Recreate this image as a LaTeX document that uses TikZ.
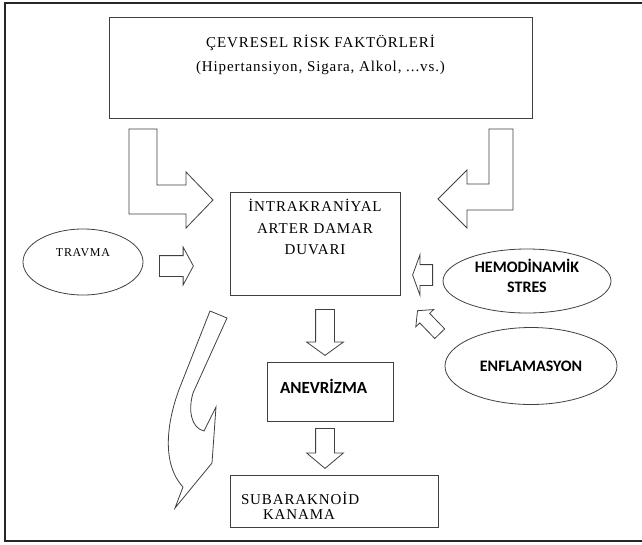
\documentclass[tikz,border=0pt]{standalone}
\usepackage{fontspec}
\setmainfont{Liberation Serif}
\newfontfamily\wordserif[LetterSpace=6]{Liberation Serif}
\newfontfamily\wordsans{Carlito}
\usetikzlibrary{arrows.meta,shapes.arrows,shapes.geometric,positioning}
\tikzset{
  every picture/.style={line join=miter},
  hollow/.style={draw=black!75, line width=0.8pt, fill=white},
  box/.style={hollow, rectangle, inner sep=0pt, align=center},
  oval/.style={hollow, ellipse, inner sep=0pt, align=center},
  blk/.style={hollow, single arrow, inner xsep=0pt, anchor=tail},
  serif/.style={font=\wordserif\fontsize{15}{24}\selectfont},
  sans/.style={font=\wordsans\bfseries\fontsize{16}{20}\selectfont},
}

\begin{document}
\begin{tikzpicture}[x=1pt,y=-1pt]
\useasboundingbox (0,0) rectangle (642,544);
% frame (open on the right)
\draw[black!85, line width=1.5pt] (642,3) -- (5,3) -- (5,541) -- (642,541);

% boxes and ovals
\node[box, serif, minimum width=423, minimum height=101, text depth=28pt] (risk) at (320.5,67.5)
  {ÇEVRESEL RİSK FAKTÖRLERİ\\(Hipertansiyon, Sigara, Alkol, ...vs.)};
\node[box, serif, font=\wordserif\fontsize{15}{21.5}\selectfont, minimum width=170, minimum height=103, text depth=33pt] (wall) at (315,243.5)
  {İNTRAKRANİYAL\\ARTER DAMAR\\DUVARI};
\node[oval, font=\wordserif\fontsize{12}{14}\selectfont, minimum width=120, minimum height=66, text depth=18pt] (travma) at (83,262) {TRAVMA};
\node[oval, sans, minimum width=168, minimum height=64, text depth=11pt] (hemo) at (527,281) {HEMODİNAMİK\\STRES};
\node[oval, sans, minimum width=172, minimum height=77] (enfl) at (531,366) {ENFLAMASYON};
\node[box, sans, font=\wordsans\bfseries\fontsize{17}{20}\selectfont, minimum width=126, minimum height=59, text width=100, align=left, text depth=10pt] (anev) at (330,391.5) {ANEVRİZMA};
\node[box, font=\wordserif\fontsize{15}{15}\selectfont, minimum width=208, minimum height=52, text width=186, align=left, text depth=6pt] (sak) at (334,501)
  {SUBARAKNOİD\\\hspace*{22pt}KANAMA};

% block arrows
\draw[hollow] (129,129) -- (157,129) -- (157,185) -- (186,185) -- (186,172) -- (213,200)
  -- (186,228) -- (186,214) -- (129,214) -- cycle;
\draw[hollow] (489,129) -- (513,129) -- (513,210) -- (467,210) -- (467,228) -- (438,199)
  -- (467,170) -- (467,184) -- (489,184) -- cycle;
\node[blk, inner ysep=10pt, minimum height=34, single arrow head extend=8.5pt, single arrow tip angle=123] (tr2w) at (159,266) {};
\node[blk, rotate=180, inner ysep=10pt, minimum height=20, single arrow head extend=10pt, single arrow tip angle=140] (h2w) at (433,275) {};
\node[blk, rotate=134, inner ysep=6.5pt, minimum height=32, single arrow head extend=5.5pt, single arrow tip angle=100] (e2w) at (440,334) {};
\node[blk, rotate=-90, inner ysep=9pt, minimum height=46, single arrow head extend=9pt, single arrow tip angle=108] (w2a) at (325,309) {};
\node[blk, rotate=-90, inner ysep=9pt, minimum height=40, single arrow head extend=9pt, single arrow tip angle=100] (a2s) at (325,428) {};

% curved arrow down the left side
\draw[hollow] (210,311) -- (227,318) -- (193,393) .. controls (188,410) and (191,428) .. (204,431)
  -- (216,407) -- (212,463) -- (175,508) -- (183,487)
  .. controls (160,462) and (168,418) .. (180,387) -- cycle;
\end{tikzpicture}
\end{document}
